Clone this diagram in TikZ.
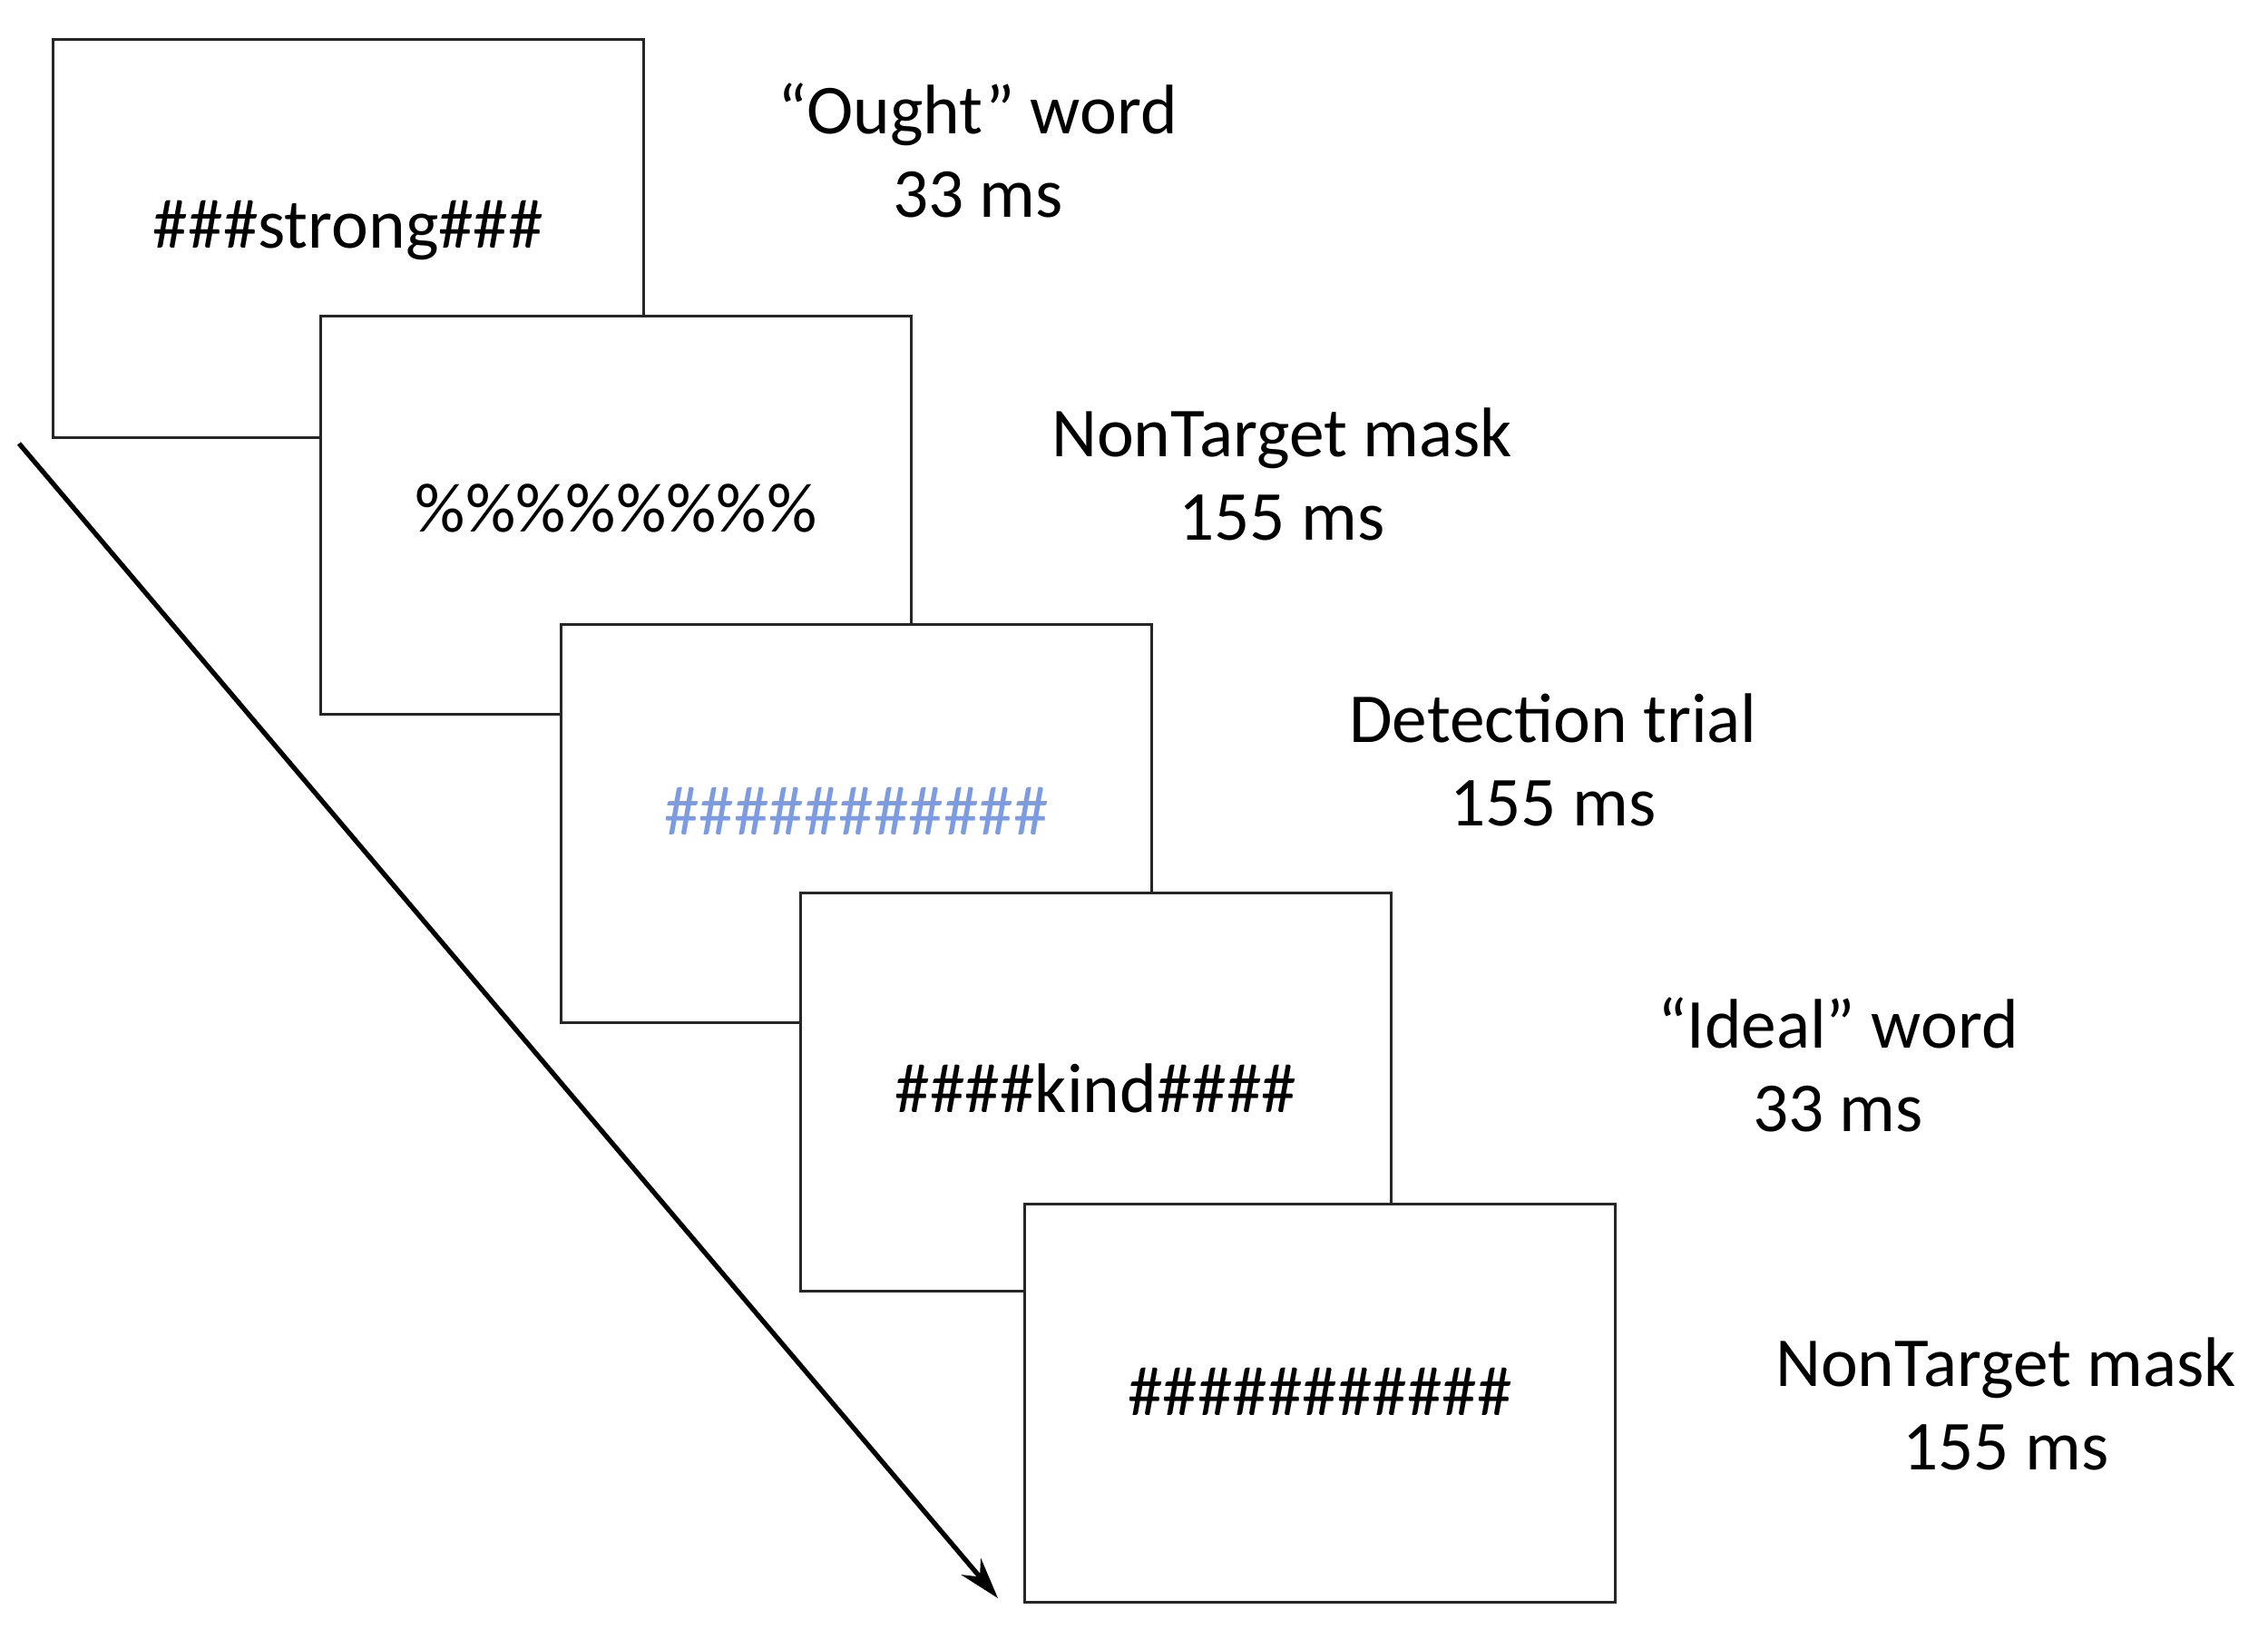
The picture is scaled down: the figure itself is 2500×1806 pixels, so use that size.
\documentclass[tikz,border=0pt]{standalone}
\usepackage{fontspec}
\setmainfont{Carlito}
\usetikzlibrary{arrows.meta}
\definecolor{hashblue}{RGB}{125,155,225}
\begin{document}
\begin{tikzpicture}[x=0.01cm,y=-0.01cm,
  screen/.style={draw=black!85, line width=0.8pt, fill=white, minimum width=6.51cm, minimum height=4.38cm, inner sep=0pt, font=\fontsize{22}{26}\selectfont},
  lbl/.style={align=center, font=\fontsize{22}{26.2}\selectfont, inner sep=0pt},
  timeline/.style={line width=1.5pt, -{Stealth[length=13pt,width=8pt]}}]
\useasboundingbox (0,0) rectangle (2500,1806);
\coordinate (arrS) at (21,489);
\coordinate (arrE) at (1100,1762);
\draw[timeline] (arrS) -- (arrE);
\node[screen] (b1) at (384,263) {\raisebox{9pt}{\#\#\#strong\#\#\#}};
\node[screen] (b2) at (679,568) {\raisebox{4.5pt}{\%\%\%\%\%\%\%\%}};
\node[screen] (b3) at (944,908) {\raisebox{8pt}{\color{hashblue}\#\#\#\#\#\#\#\#\#\#\#}};
\node[screen] (b4) at (1208,1204) {\raisebox{2.5pt}{\#\#\#\#kind\#\#\#\#}};
\node[screen] (b5) at (1455,1547) {\raisebox{7pt}{\#\#\#\#\#\#\#\#\#\#\#}};
\node[lbl] (l1) at (1078,166) {“Ought” word\\33 ms};
\node[lbl] (l2) at (1413,523) {NonTarget mask\\155 ms};
\node[lbl] (l3) at (1712,838) {Detection trial\\155 ms};
\node[lbl] (l4) at (2026,1174) {“Ideal” word\\33 ms};
\node[lbl] (l5) at (2211,1548) {NonTarget mask\\155 ms};
\end{tikzpicture}
\end{document}
